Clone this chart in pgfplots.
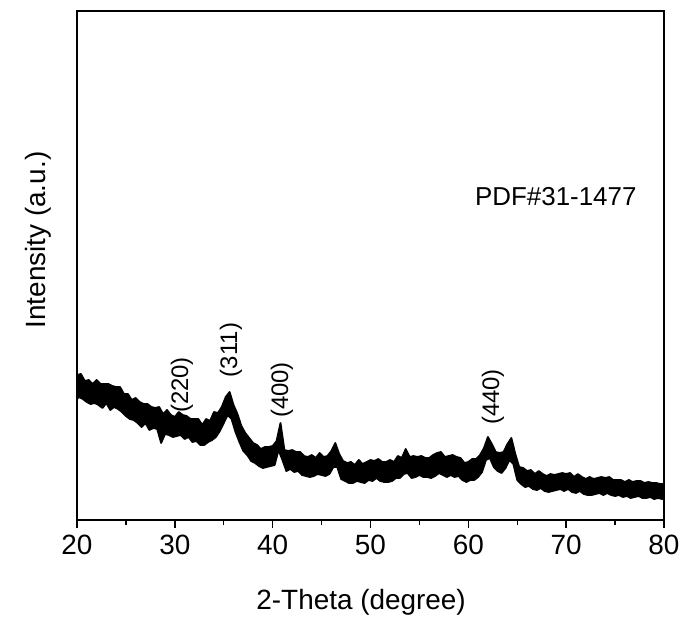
\documentclass[border=0pt]{standalone}
\usepackage{fontspec}
\setmainfont{Liberation Sans}
\usepackage{pgfplots}
\pgfplotsset{compat=1.18}
\begin{document}
\begin{tikzpicture}
\begin{axis}[
 scale only axis, width=587bp, height=509bp,
 xmin=20, xmax=80, ymin=0, ymax=509,
 axis line style={line width=1.4pt},
 xtick={20,30,...,80}, minor xtick={25,35,...,75},
 ytick=\empty,
 tick align=outside, xtick pos=bottom,
 major tick length=8bp, minor tick length=5bp,
 tick style={line width=1.4pt, black},
 /pgf/number format/assume math mode=true,
 xticklabel style={font=\fontsize{28}{32}\selectfont, yshift=-3bp},
 xlabel={2-Theta (degree)},
 ylabel={Intensity (a.u.)},
 xlabel style={font=\fontsize{28}{32}\selectfont, at={(axis description cs:0.484,-0.1768)}, anchor=base},
 ylabel style={font=\fontsize{28}{32}\selectfont, at={(axis description cs:-0.0545,0.55)}, anchor=base, rotate=0},
]
% noisy XRD trace drawn as its band: upper envelope left to right, lower envelope right to left
\addplot[draw=black, fill=black, line width=1.8bp, line join=round] coordinates {
(20.0,145) (20.4,146) (20.8,139) (21.2,140) (21.6,136) (22.0,140) (22.4,136) (22.8,136) (23.2,136) (23.6,134)
(24.0,133) (24.4,133) (24.8,126) (25.2,126) (25.6,120) (26.0,122) (26.4,118) (26.8,116) (27.2,116) (27.6,113)
(28.0,112) (28.4,113) (28.8,106) (29.2,110) (29.6,105) (30.0,103) (30.4,108) (30.8,105) (31.2,104) (31.6,101)
(32.0,101) (32.4,101) (32.8,95) (33.2,101) (33.6,99) (34.0,108) (34.4,107) (34.8,113) (35.2,123) (35.6,128)
(36.0,115) (36.4,106) (36.8,94) (37.2,87) (37.6,82) (38.0,77) (38.4,75) (38.8,71) (39.2,73) (39.6,73)
(40.0,74) (40.4,79) (40.8,97) (41.2,70) (41.6,69) (42.0,70) (42.4,68) (42.8,68) (43.2,64) (43.6,63)
(44.0,65) (44.4,62) (44.8,67) (45.2,63) (45.6,64) (46.0,69) (46.4,77) (46.8,66) (47.2,59) (47.6,57)
(48.0,58) (48.4,55) (48.8,60) (49.2,56) (49.6,58) (50.0,60) (50.4,59) (50.8,61) (51.2,58) (51.6,58)
(52.0,60) (52.4,58) (52.8,64) (53.2,62) (53.6,71) (54.0,63) (54.4,64) (54.8,63) (55.2,64) (55.6,62)
(56.0,62) (56.4,65) (56.8,67) (57.2,68) (57.6,63) (58.0,64) (58.4,65) (58.8,63) (59.2,62) (59.6,57)
(60.0,58) (60.4,61) (60.8,61) (61.2,65) (61.6,72) (62.0,83) (62.4,76) (62.8,68) (63.2,67) (63.6,68)
(64.0,76) (64.4,82) (64.8,66) (65.2,53) (65.6,52) (66.0,49) (66.4,50) (66.8,46) (67.2,49) (67.6,46)
(68.0,44) (68.4,46) (68.8,45) (69.2,46) (69.6,47) (70.0,46) (70.4,47) (70.8,43) (71.2,46) (71.6,43)
(72.0,41) (72.4,43) (72.8,41) (73.2,42) (73.6,43) (74.0,42) (74.4,43) (74.8,40) (75.2,40) (75.6,40)
(76.0,38) (76.4,40) (76.8,38) (77.2,39) (77.6,39) (78.0,37) (78.4,38) (78.8,37) (79.2,37) (79.6,36)
(80.0,36)
(80.0,22) (79.8,21) (79.4,22) (79.0,21) (78.6,23) (78.2,22) (77.8,22) (77.4,24) (77.0,23) (76.6,22)
(76.2,24) (75.8,23) (75.4,25) (75.0,24) (74.6,25) (74.2,27) (73.8,25) (73.4,27) (73.0,26) (72.6,25)
(72.2,25) (71.8,26) (71.4,29) (71.0,27) (70.6,28) (70.2,31) (69.8,29) (69.4,31) (69.0,30) (68.6,29)
(68.2,28) (67.8,29) (67.4,32) (67.0,30) (66.6,31) (66.2,34) (65.8,33) (65.4,36) (65.0,40) (64.6,56)
(64.2,60) (63.8,52) (63.4,47) (63.0,49) (62.6,53) (62.2,62) (61.8,60) (61.4,48) (61.0,43) (60.6,40)
(60.2,40) (59.8,38) (59.4,40) (59.0,44) (58.6,43) (58.2,45) (57.8,43) (57.4,45) (57.0,47) (56.6,44)
(56.2,42) (55.8,43) (55.4,43) (55.0,45) (54.6,43) (54.2,42) (53.8,47) (53.4,46) (53.0,42) (52.6,42)
(52.2,39) (51.8,38) (51.4,38) (51.0,39) (50.6,42) (50.2,39) (49.8,40) (49.4,37) (49.0,38) (48.6,39)
(48.2,37) (47.8,37) (47.4,39) (47.0,41) (46.6,53) (46.2,53) (45.8,46) (45.4,44) (45.0,45) (44.6,46)
(44.2,44) (43.8,43) (43.4,44) (43.0,45) (42.6,49) (42.2,48) (41.8,51) (41.4,49) (41.0,60) (40.6,70)
(40.2,55) (39.8,54) (39.4,53) (39.0,52) (38.6,54) (38.2,57) (37.8,59) (37.4,65) (37.0,69) (36.6,78)
(36.2,88) (35.8,101) (35.4,105) (35.0,97) (34.6,89) (34.2,83) (33.8,80) (33.4,78) (33.0,75) (32.6,75)
(32.2,79) (31.8,78) (31.4,83) (31.0,81) (30.6,85) (30.2,84) (29.8,83) (29.4,85) (29.0,86) (28.6,77)
(28.2,91) (27.8,92) (27.4,90) (27.0,97) (26.6,93) (26.2,97) (25.8,100) (25.4,101) (25.0,104) (24.6,108)
(24.2,111) (23.8,113) (23.4,110) (23.0,117) (22.6,112) (22.2,115) (21.8,117) (21.4,116) (21.0,118) (20.6,121)
(20.2,123) (20.0,121)
} -- cycle;
\node[rotate=90, font=\fontsize{24}{28}\selectfont] at (axis cs:30.73,135) {(220)};
\node[rotate=90, font=\fontsize{24}{28}\selectfont] at (axis cs:35.74,170) {(311)};
\node[rotate=90, font=\fontsize{24}{28}\selectfont] at (axis cs:40.95,130) {(400)};
\node[rotate=90, font=\fontsize{24}{28}\selectfont] at (axis cs:62.52,123) {(440)};
\node[anchor=west, inner sep=0pt, font=\fontsize{26}{30}\selectfont] at (axis cs:60.68,323) {PDF\#31-1477};
\coordinate (bl) at (rel axis cs:0,0);
\coordinate (tr) at (rel axis cs:1,1);
\end{axis}
\pgfresetboundingbox
\path[use as bounding box] ([xshift=-77bp,yshift=-103bp]bl) rectangle ([xshift=23bp,yshift=11bp]tr);
\end{tikzpicture}
\end{document}
